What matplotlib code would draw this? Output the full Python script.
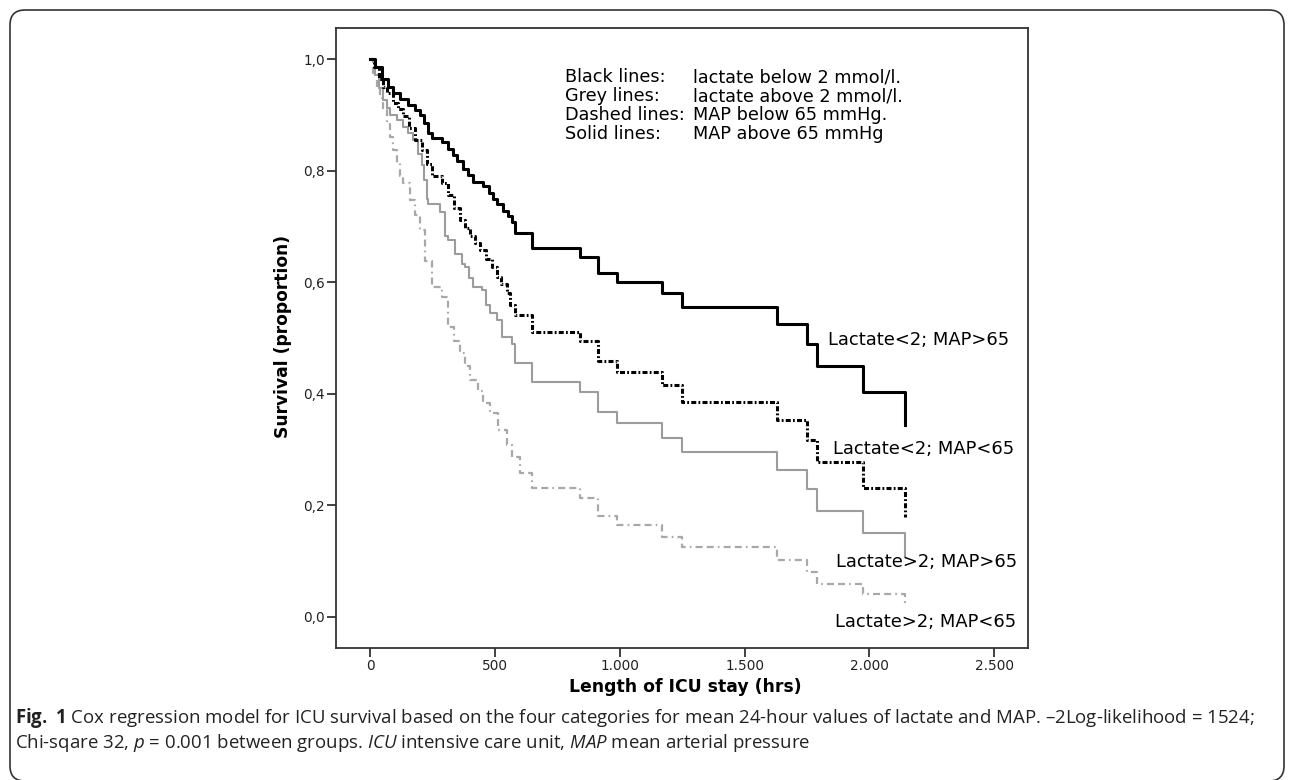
import matplotlib
matplotlib.use("Agg")
import matplotlib.pyplot as plt
from matplotlib.patches import FancyBboxPatch

# survival steps (hours, proportion surviving)
t_lo_hi = [0, 20, 45, 70, 90, 120, 150, 180, 198, 215, 230, 245, 285, 310, 330, 346,
           370, 390, 411, 451, 475, 490, 506, 530, 550, 566, 579, 646, 840, 912, 987,
           1168, 1248, 1629, 1749, 1790, 1976, 2143]
s_lo_hi = [1.0, 0.985, 0.965, 0.950, 0.939, 0.928, 0.918, 0.908, 0.900, 0.885, 0.868,
           0.858, 0.852, 0.838, 0.828, 0.818, 0.803, 0.792, 0.780, 0.772, 0.760, 0.750,
           0.740, 0.728, 0.718, 0.708, 0.688, 0.661, 0.646, 0.616, 0.601, 0.580, 0.555,
           0.525, 0.490, 0.450, 0.403, 0.344]

t_lo_lo = [0, 15, 35, 50, 65, 90, 110, 131, 155, 178, 205, 225, 245, 285, 310, 335,
           359, 380, 400, 419, 439, 465, 486, 506, 525, 546, 560, 579, 646, 840, 912,
           987, 1168, 1248, 1629, 1749, 1790, 1976, 2143]
s_lo_lo = [1.0, 0.985, 0.965, 0.950, 0.939, 0.922, 0.910, 0.897, 0.876, 0.855, 0.837,
           0.812, 0.790, 0.778, 0.756, 0.733, 0.711, 0.697, 0.683, 0.670, 0.658, 0.642,
           0.628, 0.610, 0.596, 0.580, 0.560, 0.541, 0.511, 0.495, 0.458, 0.439, 0.416,
           0.386, 0.353, 0.317, 0.277, 0.231, 0.180]

t_hi_hi = [0, 18, 35, 51, 65, 78, 105, 131, 150, 172, 190, 205, 215, 225, 232, 279,
           299, 312, 339, 366, 379, 395, 412, 446, 465, 479, 506, 526, 566, 579, 646,
           840, 912, 987, 1168, 1248, 1629, 1749, 1790, 1976, 2143]
s_hi_hi = [1.0, 0.971, 0.948, 0.927, 0.913, 0.900, 0.890, 0.879, 0.867, 0.855, 0.830,
           0.810, 0.783, 0.750, 0.741, 0.725, 0.682, 0.676, 0.650, 0.632, 0.628, 0.608,
           0.592, 0.586, 0.560, 0.544, 0.532, 0.502, 0.490, 0.455, 0.422, 0.404, 0.368,
           0.347, 0.321, 0.295, 0.263, 0.229, 0.190, 0.151, 0.108]

t_hi_lo = [0, 12, 25, 38, 51, 65, 78, 92, 105, 118, 131, 158, 178, 198, 219, 245, 285,
           312, 335, 359, 380, 399, 432, 452, 479, 512, 546, 566, 599, 646, 840, 912,
           987, 1168, 1248, 1629, 1749, 1790, 1976, 2143]
s_hi_lo = [1.0, 0.975, 0.950, 0.930, 0.909, 0.885, 0.861, 0.837, 0.813, 0.790, 0.777,
           0.747, 0.720, 0.694, 0.638, 0.592, 0.574, 0.520, 0.495, 0.473, 0.450, 0.425,
           0.405, 0.383, 0.365, 0.335, 0.308, 0.287, 0.258, 0.231, 0.214, 0.181, 0.164,
           0.143, 0.126, 0.102, 0.080, 0.060, 0.041, 0.025]

x_ticks = [0, 500, 1000, 1500, 2000, 2500]
x_labels = ["0", "500", "1.000", "1.500", "2.000", "2.500"]
y_ticks = [0.0, 0.2, 0.4, 0.6, 0.8, 1.0]
y_labels = ["0,0", "0,2", "0,4", "0,6", "0,8", "1,0"]

key_names = ["Black lines:", "Grey lines:", "Dashed lines:", "Solid lines:"]
key_texts = ["lactate below 2 mmol/l.", "lactate above 2 mmol/l.",
             "MAP below 65 mmHg.", "MAP above 65 mmHg"]

plt.rcParams["font.family"] = "DejaVu Sans"
plt.rcParams["lines.scale_dashes"] = False
plt.rcParams["mathtext.fontset"] = "custom"
plt.rcParams["mathtext.rm"] = "Open Sans"
plt.rcParams["mathtext.it"] = "Open Sans:italic"
plt.rcParams["mathtext.bf"] = "Open Sans:bold"

W, H = 1292, 780


def fx(px):
    return px / W


def fy(py):
    return 1 - py / H


fig = plt.figure(figsize=(W / 100, H / 100), dpi=100)
ax = fig.add_axes([fx(336), fy(648), fx(1028) - fx(336), fy(28) - fy(648)])

grey = "#9c9c9c"
ax.plot(t_hi_lo, s_hi_lo, drawstyle="steps-post", color="#a8a8a8", lw=1.6,
        dashes=(5, 3, 5, 3, 1.2, 3))
ax.plot(t_hi_hi, s_hi_hi, drawstyle="steps-post", color=grey, lw=1.5)
ax.plot(t_lo_lo, s_lo_lo, drawstyle="steps-post", color="black", lw=2.2,
        dashes=(3.6, 1.6, 1.3, 1.6))
ax.plot(t_lo_hi, s_lo_hi, drawstyle="steps-post", color="black", lw=2.2)

ax.set_xlim(-138, 2636)
ax.set_ylim(-0.0556, 1.0556)
ax.set_xticks(x_ticks)
ax.set_xticklabels(x_labels)
ax.set_yticks(y_ticks)
ax.set_yticklabels(y_labels)
ax.tick_params(direction="out", length=6.5, width=1.3, pad=1.5, labelsize=9.8,
               color="#333333", labelcolor="#222222")
for sp in ax.spines.values():
    sp.set_color("#333333")
    sp.set_linewidth(1.3)

fig.text(fx(283), fy(336.5), "Survival (proportion)", rotation=90, ha="center",
         va="center", fontsize=12.3, fontweight="bold")
fig.text(fx(685), fy(687), "Length of ICU stay (hrs)", ha="center", va="center",
         fontsize=12.4, fontweight="bold")

rows = [82.5, 101.2, 120.0, 138.7]
for name, txt, yb in zip(key_names, key_texts, rows):
    fig.text(fx(565), fy(yb), name, ha="left", va="baseline", fontsize=12.7)
    fig.text(fx(693), fy(yb), txt, ha="left", va="baseline", fontsize=12.7)

fig.text(fx(828), fy(345), "Lactate<2; MAP>65", ha="left", va="baseline", fontsize=12.9)
fig.text(fx(833), fy(454), "Lactate<2; MAP<65", ha="left", va="baseline", fontsize=12.9)
fig.text(fx(836), fy(567), "Lactate>2; MAP>65", ha="left", va="baseline", fontsize=12.9)
fig.text(fx(835), fy(627), "Lactate>2; MAP<65", ha="left", va="baseline", fontsize=12.9)

cap1 = (r"$\mathbf{Fig.\ 1}$ Cox regression model for ICU survival based on the four "
        "categories for mean 24-hour values of lactate and MAP. \u20132Log-likelihood = 1524;")
cap2 = (r"Chi-sqare 32, $\mathit{p}$ = 0.001 between groups. $\mathit{ICU}$ intensive "
        r"care unit, $\mathit{MAP}$ mean arterial pressure")
fig.text(fx(15), fy(718), cap1, ha="left", va="center", fontsize=13.4,
         family="Open Sans", color="#222222")
fig.text(fx(15), fy(743), cap2, ha="left", va="center", fontsize=13.4,
         family="Open Sans", color="#222222")

border = FancyBboxPatch((0.10, -0.01), 12.74, 7.71,
                        boxstyle="round,pad=0,rounding_size=0.15",
                        transform=fig.dpi_scale_trans, fill=False,
                        edgecolor="#333333", lw=1.2)
fig.patches.append(border)

fig.savefig("out.png", dpi=100)
